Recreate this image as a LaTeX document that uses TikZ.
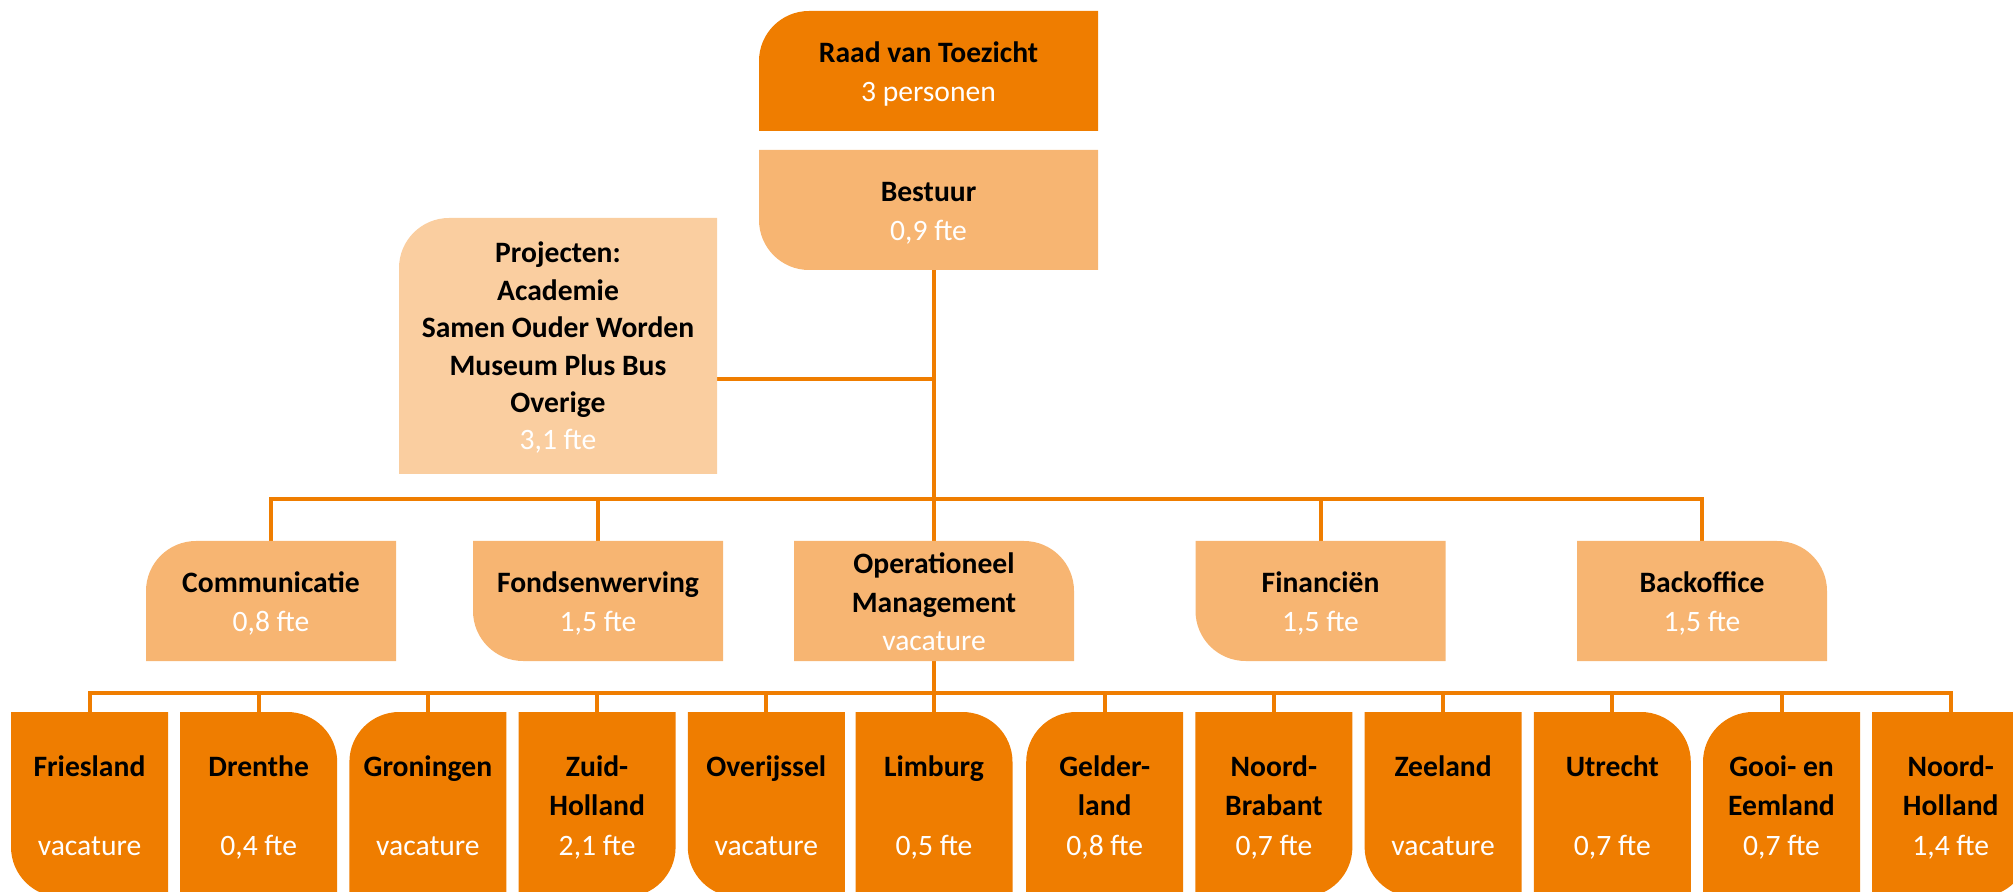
\documentclass[tikz,border=0pt]{standalone}
\usepackage{fontspec}
\setmainfont{Carlito}
\usetikzlibrary{calc}
\definecolor{cDark}{RGB}{239,125,0}
\definecolor{cMid}{RGB}{247,181,114}
\definecolor{cLight}{RGB}{250,206,160}
\newcommand\crad{25pt}
\newcommand\fillTL[2]{\fill[#2] (#1.south west) -- ([yshift=-\crad]#1.north west) arc[start angle=180,end angle=90,radius=\crad] -- (#1.north east) -- (#1.south east) -- cycle;}
\newcommand\fillTR[2]{\fill[#2] (#1.south west) -- (#1.north west) -- ([xshift=-\crad]#1.north east) arc[start angle=90,end angle=0,radius=\crad] -- (#1.south east) -- cycle;}
\newcommand\fillBL[2]{\fill[#2] ([yshift=\crad]#1.south west) -- (#1.north west) -- (#1.north east) -- (#1.south east) -- ([xshift=\crad]#1.south west) arc[start angle=270,end angle=180,radius=\crad] -- cycle;}
\newcommand\fillBR[2]{\fill[#2] (#1.south west) -- (#1.north west) -- (#1.north east) -- ([yshift=\crad]#1.south east) arc[start angle=0,end angle=-90,radius=\crad] -- cycle;}
\tikzset{
  bx/.style 2 args={rectangle, inner sep=0pt, outer sep=0pt, minimum width=#1*0.5pt, minimum height=#2*0.5pt},
  darkfill/.style={fill=cDark},
  midfill/.style={fill=cMid},
  lightfill/.style={fill=cLight},
  conn/.style={draw=cDark, line width=2pt, line join=miter},
  txt/.style={anchor=base, align=center, inner sep=0pt, font=\fontsize{14.8pt}{19.5pt}\selectfont},
  ptxt/.style={txt, font=\fontsize{14.8pt}{18.7pt}\selectfont},
  btxt/.style={txt, font=\fontsize{14.8pt}{19.75pt}\selectfont},
}
\newcommand\num[1]{\textcolor{white}{#1}}
\begin{document}
\begin{tikzpicture}[x=0.5pt,y=-0.5pt]
\useasboundingbox (0,0) rectangle (2013,892);
\clip (0,0) rectangle (2013,892);
% boxes
\node[bx={339}{120}] (raad) at (928.5,71) {};
\node[bx={339}{120}] (bestuur) at (928.5,210) {};
\node[bx={318}{256}] (proj) at (558,346) {};
\node[bx={250}{120}] (comm) at (271,601) {};
\node[bx={250}{120}] (fonds) at (598,601) {};
\node[bx={280}{120}] (ops) at (934,601) {};
\node[bx={250}{120}] (fin) at (1320.5,601) {};
\node[bx={250}{120}] (back) at (1702,601) {};
\node[bx={157}{185}] (fries) at (89.5,804.5) {};
\node[bx={157}{185}] (dren) at (258.7,804.5) {};
\node[bx={157}{185}] (gron) at (427.9,804.5) {};
\node[bx={157}{185}] (zholl) at (597.1,804.5) {};
\node[bx={157}{185}] (overij) at (766.3,804.5) {};
\node[bx={157}{185}] (limb) at (934,804.5) {};
\node[bx={157}{185}] (geld) at (1104.7,804.5) {};
\node[bx={157}{185}] (nbrab) at (1273.9,804.5) {};
\node[bx={157}{185}] (zeel) at (1443.1,804.5) {};
\node[bx={157}{185}] (utr) at (1612.3,804.5) {};
\node[bx={157}{185}] (gooi) at (1781.5,804.5) {};
\node[bx={157}{185}] (nholl) at (1950.7,804.5) {};
% connectors
\coordinate (bus1) at (934,499);
\coordinate (bus2) at (934,693);
\coordinate (pj) at ([yshift=-16.5pt]proj.east);
\draw[conn] (bestuur.south -| ops.north) -- (ops.north);
\draw[conn] (pj) -- (pj -| ops.north);
\draw[conn] (comm.north) |- (bus1) -| (back.north);
\draw[conn] (fonds.north) -- (fonds.north |- bus1);
\draw[conn] (fin.north) -- (fin.north |- bus1);
\draw[conn] (ops.south) -- (limb.north);
\draw[conn] (fries.north) |- (bus2) -| (nholl.north);
\foreach \n in {dren,gron,zholl,overij,geld,nbrab,zeel,utr,gooi}
  \draw[conn] (\n.north) -- (\n.north |- bus2);
% fills
\fillTL{raad}{darkfill}
\fillBL{bestuur}{midfill}
\fillTL{proj}{lightfill}
\fillTL{comm}{midfill}
\fillBL{fonds}{midfill}
\fillTR{ops}{midfill}
\fillBL{fin}{midfill}
\fillTR{back}{midfill}
\fillBL{fries}{darkfill}
\fillTR{dren}{darkfill}
\fillTL{gron}{darkfill}
\fillBR{zholl}{darkfill}
\fillBL{overij}{darkfill}
\fillTR{limb}{darkfill}
\fillTL{geld}{darkfill}
\fillBR{nbrab}{darkfill}
\fillBL{zeel}{darkfill}
\fillTR{utr}{darkfill}
\fillTL{gooi}{darkfill}
\fillBR{nholl}{darkfill}
% texts (anchor = baseline of the last line)
\node[txt] (raad-t) at (928.5,102) {\textbf{Raad van Toezicht}\\\num{3 personen}};
\node[txt] (bestuur-t) at (928.5,241) {\textbf{Bestuur}\\\num{0,9 fte}};
\node[ptxt] (proj-t) at (558,450) {\textbf{Projecten:}\\\textbf{Academie}\\\textbf{Samen Ouder Worden}\\\textbf{Museum Plus Bus}\\\textbf{Overige}\\\num{3,1 fte}};
\node[txt] (comm-t) at (271,632) {\textbf{Communicatie}\\\num{0,8 fte}};
\node[txt] (fonds-t) at (598,632) {\textbf{Fondsenwerving}\\\num{1,5 fte}};
\node[txt] (ops-t) at (934,651) {\textbf{Operationeel}\\\textbf{Management}\\\num{vacature}};
\node[txt] (fin-t) at (1320.5,632) {\textbf{Financiën}\\\num{1,5 fte}};
\node[txt] (back-t) at (1702,632) {\textbf{Backoffice}\\\num{1,5 fte}};
\node[btxt] (fries-t) at (89.5,855) {\textbf{Friesland}\\[19.75pt]\num{vacature}};
\node[btxt] (dren-t) at (258.7,855) {\textbf{Drenthe}\\[19.75pt]\num{0,4 fte}};
\node[btxt] (gron-t) at (427.9,855) {\textbf{Groningen}\\[19.75pt]\num{vacature}};
\node[btxt] (zholl-t) at (597.1,855) {\textbf{Zuid-}\\\textbf{Holland}\\\num{2,1 fte}};
\node[btxt] (overij-t) at (766.3,855) {\textbf{Overijssel}\\[19.75pt]\num{vacature}};
\node[btxt] (limb-t) at (934,855) {\textbf{Limburg}\\[19.75pt]\num{0,5 fte}};
\node[btxt] (geld-t) at (1104.7,855) {\textbf{Gelder-}\\\textbf{land}\\\num{0,8 fte}};
\node[btxt] (nbrab-t) at (1273.9,855) {\textbf{Noord-}\\\textbf{Brabant}\\\num{0,7 fte}};
\node[btxt] (zeel-t) at (1443.1,855) {\textbf{Zeeland}\\[19.75pt]\num{vacature}};
\node[btxt] (utr-t) at (1612.3,855) {\textbf{Utrecht}\\[19.75pt]\num{0,7 fte}};
\node[btxt] (gooi-t) at (1781.5,855) {\textbf{Gooi- en}\\\textbf{Eemland}\\\num{0,7 fte}};
\node[btxt] (nholl-t) at (1950.7,855) {\textbf{Noord-}\\\textbf{Holland}\\\num{1,4 fte}};
\end{tikzpicture}
\end{document}
